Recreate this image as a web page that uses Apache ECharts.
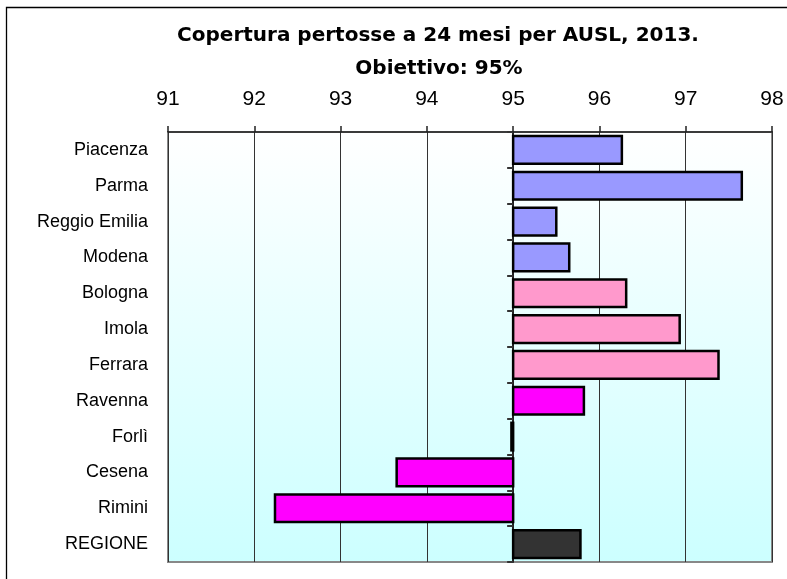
<!DOCTYPE html>
<html style="height: 100%">
<head>
    <meta charset="utf-8">
</head>
<body style="height: 100%; margin: 0; background: #fff">
<div id="container" style="width: 787px; height: 579px"></div>
<script type="text/javascript" src="https://cdn.jsdelivr.net/npm/echarts@6/dist/echarts.min.js"></script>
<script type="text/javascript">
    // dati
    var categories = ['Piacenza', 'Parma', 'Reggio Emilia', 'Modena', 'Bologna', 'Imola',
        'Ferrara', 'Ravenna', 'Forlì', 'Cesena', 'Rimini', 'REGIONE'];
    var coverage = [96.26, 97.65, 95.5, 95.65, 96.31, 96.93, 97.38, 95.82, 94.98, 93.65, 92.24, 95.78];
    var xTicks = [91, 92, 93, 94, 95, 96, 97, 98];
    var target = 95;
    var barColors = ['#9999ff', '#9999ff', '#9999ff', '#9999ff', '#ff99cc', '#ff99cc',
        '#ff99cc', '#ff00ff', '#ff00ff', '#ff00ff', '#ff00ff', '#333333'];

    var dom = document.getElementById("container");
    var myChart = echarts.init(dom);

    var gridLeft = 168, gridRight = 15;
    var gridWidth = 787 - gridLeft - gridRight;
    var xMin = xTicks[0], xMax = xTicks[xTicks.length - 1];
    var targetOffset = (target - xMin) / (xMax - xMin) * gridWidth;

    var font = 'Liberation Sans, Arial, sans-serif';

    var option = {
        animation: false,
        backgroundColor: '#ffffff',
        title: [{
            text: 'Copertura pertosse a 24 mesi per AUSL, 2013.',
            left: 433, top: 21, textAlign: 'center',
            textStyle: {fontSize: 20, fontWeight: 'bold', color: '#000', fontFamily: 'DejaVu Sans, sans-serif'}
        }, {
            text: 'Obiettivo: 95%',
            left: 434, top: 54, textAlign: 'center',
            textStyle: {fontSize: 20, fontWeight: 'bold', color: '#000', fontFamily: 'DejaVu Sans, sans-serif'}
        }],
        graphic: [{
            type: 'rect',
            shape: {x: 6.5, y: 7.5, width: 800, height: 600},
            style: {fill: 'none', stroke: '#000', lineWidth: 1.3},
            silent: true
        }],
        grid: {
            left: gridLeft, right: gridRight, top: 132, bottom: 17,
            show: true,
            borderColor: '#888888',
            borderWidth: 2,
            backgroundColor: new echarts.graphic.LinearGradient(0, 0, 0, 1, [
                {offset: 0, color: '#ffffff'},
                {offset: 1, color: '#ccffff'}
            ])
        },
        xAxis: {
            type: 'value',
            position: 'top',
            min: xMin, max: xMax, interval: 1,
            axisLine: {show: true, lineStyle: {color: '#222', width: 1.5}},
            axisTick: {show: true, length: 6, lineStyle: {color: '#222', width: 1.5}},
            axisLabel: {fontSize: 21, color: '#000', fontFamily: font, margin: 22},
            splitLine: {show: true, lineStyle: {color: '#333', width: 1}}
        },
        yAxis: [{
            type: 'category',
            data: categories,
            inverse: true,
            position: 'left',
            axisLine: {show: false},
            axisTick: {show: false},
            axisLabel: {fontSize: 18, color: '#000', fontFamily: font, margin: 20}
        }, {
            type: 'category',
            data: categories,
            inverse: true,
            position: 'left',
            offset: -targetOffset,
            axisLine: {show: true, lineStyle: {color: '#222', width: 2}},
            axisTick: {show: true, length: 6, lineStyle: {color: '#333', width: 2}},
            axisLabel: {show: false},
            splitLine: {show: false}
        }],
        series: [{
            type: 'custom',
            xAxisIndex: 0,
            yAxisIndex: 0,
            encode: {x: 0, y: 1},
            data: coverage.map(function (v, i) { return [v, i]; }),
            renderItem: function (params, api) {
                var v = api.value(0);
                var idx = api.value(1);
                var base = api.coord([target, idx]);
                var end = api.coord([v, idx]);
                var h = api.size([0, 1])[1] * 0.77;
                return {
                    type: 'rect',
                    shape: {
                        x: Math.min(base[0], end[0]),
                        y: base[1] - h / 2,
                        width: Math.abs(end[0] - base[0]),
                        height: h
                    },
                    style: {fill: barColors[idx], stroke: '#000', lineWidth: 2.5}
                };
            },
            z: 3
        }]
    };

    myChart.setOption(option, true);
</script>
</body>
</html>
